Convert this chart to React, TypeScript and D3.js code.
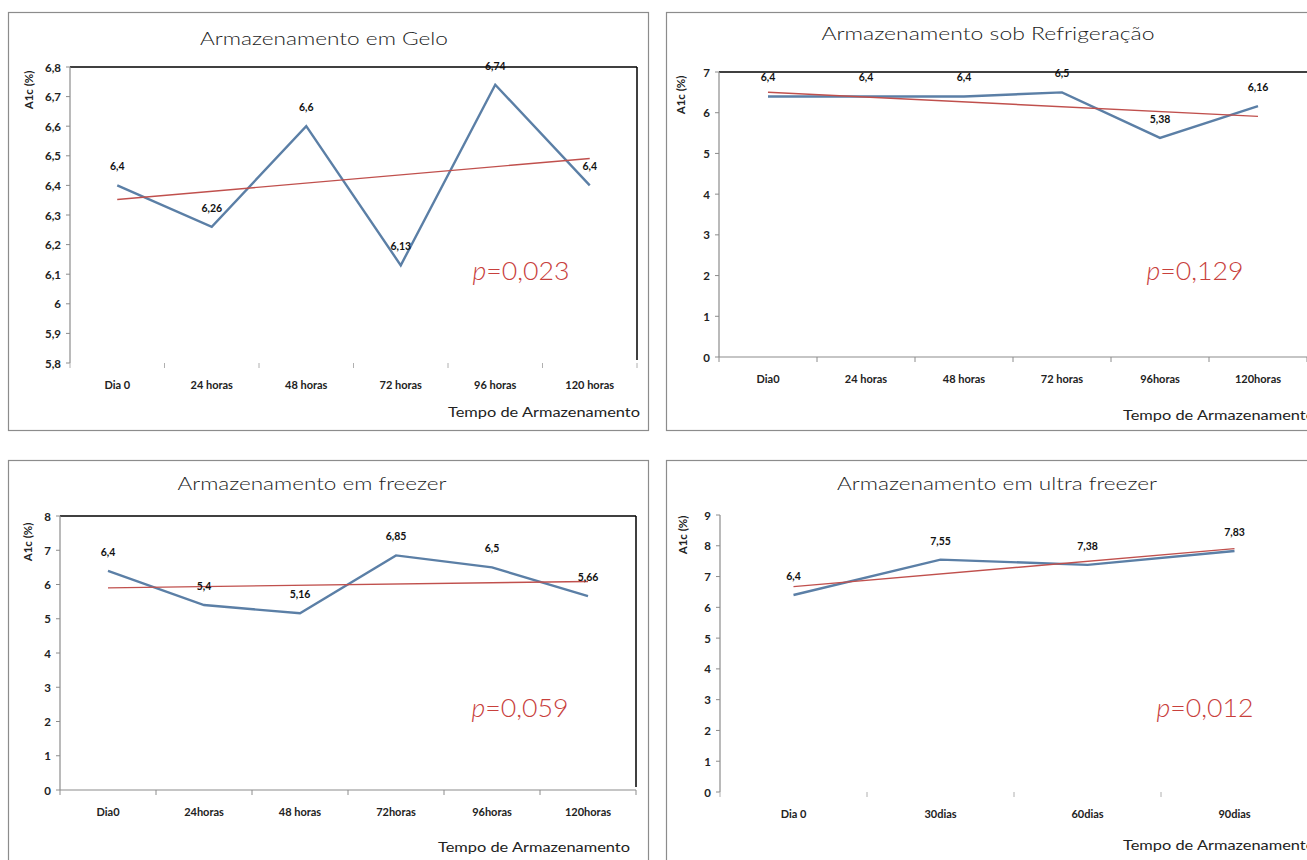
import React from "react";
import * as d3 from "d3";

// ---- data ----
const catGelo = ["Dia 0", "24 horas", "48 horas", "72 horas", "96 horas", "120 horas"];
const valGelo = [6.4, 6.26, 6.6, 6.13, 6.74, 6.4];
const ticksGelo = [5.8, 5.9, 6.0, 6.1, 6.2, 6.3, 6.4, 6.5, 6.6, 6.7, 6.8];

const catRefrig = ["Dia0", "24 horas", "48 horas", "72 horas", "96horas", "120horas"];
const valRefrig = [6.4, 6.4, 6.4, 6.5, 5.38, 6.16];
const ticksRefrig = [0, 1, 2, 3, 4, 5, 6, 7];

const catFreezer = ["Dia0", "24horas", "48 horas", "72horas", "96horas", "120horas"];
const valFreezer = [6.4, 5.4, 5.16, 6.85, 6.5, 5.66];
const ticksFreezer = [0, 1, 2, 3, 4, 5, 6, 7, 8];

const catUltra = ["Dia 0", "30dias", "60dias", "90dias"];
const valUltra = [6.4, 7.55, 7.38, 7.83];
const ticksUltra = [0, 1, 2, 3, 4, 5, 6, 7, 8, 9];

const titles = [
  "Armazenamento em Gelo",
  "Armazenamento sob Refrigeração",
  "Armazenamento em freezer",
  "Armazenamento em ultra freezer",
];
const pValues = ["0,023", "0,129", "0,059", "0,012"];
const yTitle = "A1c (%)";
const xTitle = "Tempo de Armazenamento";

const FONT = "Lato, 'Open Sans', sans-serif";
const fmt = (v: number) => String(+v.toFixed(2)).replace(".", ",");

type Layout = {
  box: { x: number; y: number; w: number; h: number };
  plot: { x: number; y: number; w: number; h: number };
  topLine: boolean;
  rightLine: boolean;
  bottomLine: boolean;
  title: { cx: number; cy: number; len: number };
  yLab: { x: number; cy: number };
  pText: { cx: number; cy: number };
  xLab: { x: number; y: number };
};

function Panel({
  cats, vals, ticks, title, p, L,
}: { cats: string[]; vals: number[]; ticks: number[]; title: string; p: string; L: Layout }) {
  const x = d3.scaleBand<string>().domain(cats).range([L.plot.x, L.plot.x + L.plot.w]);
  const y = d3.scaleLinear().domain([ticks[0], ticks[ticks.length - 1]]).range([L.plot.y + L.plot.h, L.plot.y]);
  const cx = (c: string) => (x(c) as number) + x.bandwidth() / 2;
  const line = d3.line<number>().x((_, i) => cx(cats[i])).y((v) => y(v));
  // linear regression trend
  const n = vals.length;
  const mx = d3.mean(vals.map((_, i) => i)) as number;
  const my = d3.mean(vals) as number;
  const sxy = d3.sum(vals.map((v, i) => (i - mx) * (v - my)));
  const sxx = d3.sum(vals.map((_, i) => (i - mx) * (i - mx)));
  const slope = sxy / sxx;
  const icpt = my - slope * mx;
  const trend = [icpt, icpt + slope * (n - 1)];
  const bottom = L.plot.y + L.plot.h;
  const bounds = d3.range(cats.length + 1).map((i) => L.plot.x + i * x.bandwidth());
  return (
    <g fontFamily={FONT}>
      <rect x={L.box.x + 0.5} y={L.box.y + 0.5} width={L.box.w} height={L.box.h} fill="#fff" stroke="#8c8c8c" strokeWidth={1.2} />
      <text x={L.title.cx} y={L.title.cy} textAnchor="middle" dominantBaseline="central" fontSize={18} fontWeight={300} fill="#222" textLength={L.title.len} lengthAdjust="spacingAndGlyphs">{title}</text>
      {L.topLine && <line x1={L.plot.x} x2={L.plot.x + L.plot.w} y1={L.plot.y} y2={L.plot.y} stroke="#000" strokeWidth={1.5} />}
      {L.rightLine && <line x1={L.plot.x + L.plot.w} x2={L.plot.x + L.plot.w} y1={L.plot.y} y2={bottom - 3} stroke="#000" strokeWidth={1.5} />}
      {/* y axis */}
      <line x1={L.plot.x} x2={L.plot.x} y1={L.plot.y} y2={bottom} stroke="#8c8c8c" strokeWidth={1.2} />
      {ticks.map((t) => (
        <g key={t}>
          <line x1={L.plot.x - 4} x2={L.plot.x} y1={y(t)} y2={y(t)} stroke="#8c8c8c" />
          <text x={L.plot.x - 9} y={y(t)} textAnchor="end" dominantBaseline="central" fontSize={11.5} fontWeight="bold" fill="#222">{fmt(t)}</text>
        </g>
      ))}
      {/* x axis */}
      {L.bottomLine && <line x1={L.plot.x} x2={L.plot.x + L.plot.w} y1={bottom} y2={bottom} stroke="#8c8c8c" strokeWidth={1.2} />}
      {bounds.map((b, i) => (
        <line key={i} x1={b} x2={b} y1={bottom} y2={bottom + 5} stroke={L.bottomLine ? "#8c8c8c" : "#b0b0b0"} />
      ))}
      {cats.map((c) => (
        <text key={c} x={cx(c)} y={bottom + 21} textAnchor="middle" dominantBaseline="central" fontSize={11} fontWeight="bold" fill="#222">{c}</text>
      ))}
      {/* series */}
      <path d={line(vals) as string} fill="none" stroke="#5b7fa6" strokeWidth={2.4} strokeLinejoin="miter" />
      <line x1={cx(cats[0])} x2={cx(cats[n - 1])} y1={y(trend[0])} y2={y(trend[1])} stroke="#c0504d" strokeWidth={1.4} />
      {vals.map((v, i) => (
        <text key={i} x={cx(cats[i])} y={y(v) - 19} textAnchor="middle" dominantBaseline="central" fontSize={10.5} fontWeight="bold" fill="#111">{fmt(v)}</text>
      ))}
      {/* titles */}
      <text transform={`translate(${L.yLab.x},${L.yLab.cy}) rotate(-90)`} textAnchor="middle" dominantBaseline="central" fontSize={11.5} fontWeight="bold" fill="#222">{yTitle}</text>
      <text x={L.xLab.x} y={L.xLab.y} dominantBaseline="central" fontSize={12.5} fill="#222" textLength={192} lengthAdjust="spacingAndGlyphs">{xTitle}</text>
      <text x={L.pText.cx} y={L.pText.cy} textAnchor="middle" dominantBaseline="central" fontSize={25} fontWeight={300} fill="#c8403c" textLength={97} lengthAdjust="spacingAndGlyphs">
        <tspan fontStyle="italic">p</tspan>=<tspan>{p}</tspan>
      </text>
    </g>
  );
}

const layouts: Layout[] = [
  {
    box: { x: 8, y: 12, w: 640, h: 418 },
    plot: { x: 70, y: 67, w: 567, h: 296 },
    topLine: true, rightLine: true, bottomLine: false,
    title: { cx: 324, cy: 38, len: 248 },
    yLab: { x: 28, cy: 90 },
    pText: { cx: 521, cy: 270 },
    xLab: { x: 448, y: 412 },
  },
  {
    box: { x: 666, y: 12, w: 700, h: 418 },
    plot: { x: 719, y: 72, w: 588, h: 285 },
    topLine: true, rightLine: false, bottomLine: true,
    title: { cx: 988, cy: 33, len: 333 },
    yLab: { x: 680, cy: 95 },
    pText: { cx: 1195, cy: 270 },
    xLab: { x: 1123, y: 415 },
  },
  {
    box: { x: 8, y: 460, w: 640, h: 440 },
    plot: { x: 60, y: 516, w: 576, h: 274 },
    topLine: true, rightLine: true, bottomLine: true,
    title: { cx: 312, cy: 483, len: 269 },
    yLab: { x: 27, cy: 542 },
    pText: { cx: 520, cy: 707 },
    xLab: { x: 438, y: 847 },
  },
  {
    box: { x: 666, y: 460, w: 700, h: 440 },
    plot: { x: 720, y: 515, w: 588, h: 277 },
    topLine: false, rightLine: false, bottomLine: false,
    title: { cx: 997, cy: 483, len: 320 },
    yLab: { x: 682, cy: 535 },
    pText: { cx: 1205, cy: 707 },
    xLab: { x: 1123, y: 845 },
  },
];

export default function App() {
  return (
    <svg width={1307} height={860} style={{ position: "absolute", left: 0, top: 0, background: "#fff" }}>
      <rect width={1307} height={860} fill="#fff" />
      <Panel cats={catGelo} vals={valGelo} ticks={ticksGelo} title={titles[0]} p={pValues[0]} L={layouts[0]} />
      <Panel cats={catRefrig} vals={valRefrig} ticks={ticksRefrig} title={titles[1]} p={pValues[1]} L={layouts[1]} />
      <Panel cats={catFreezer} vals={valFreezer} ticks={ticksFreezer} title={titles[2]} p={pValues[2]} L={layouts[2]} />
      <Panel cats={catUltra} vals={valUltra} ticks={ticksUltra} title={titles[3]} p={pValues[3]} L={layouts[3]} />
    </svg>
  );
}
